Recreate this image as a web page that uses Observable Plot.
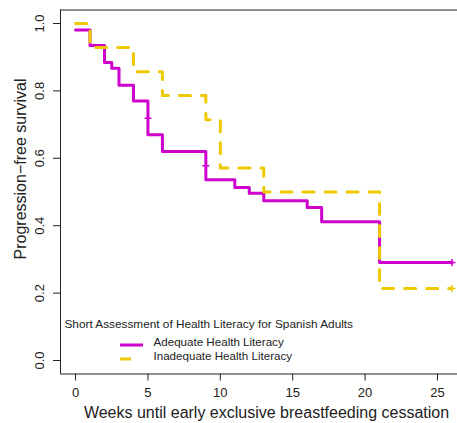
<!DOCTYPE html>
<html>
<head>
<meta charset="utf-8">
<script src="https://cdn.jsdelivr.net/npm/d3@7"></script>
<script src="https://cdn.jsdelivr.net/npm/@observablehq/plot@0.6"></script>
<style>
  html, body { margin: 0; padding: 0; background: #fff; }
  #chart { width: 457px; height: 423px; overflow: hidden; }
</style>
</head>
<body>
<div id="chart"></div>
<script>
// ---- data ----
const seriesNames = ["Adequate Health Literacy", "Inadequate Health Literacy"];
const legendTitle = "Short Assessment of Health Literacy for Spanish Adults";
const weeksAdequate = [0, 1, 2, 2.5, 3, 4, 5, 6, 9, 11, 12, 13, 16, 17, 21, 26];
const survAdequate  = [0.981, 0.935, 0.884, 0.867, 0.817, 0.770, 0.670, 0.620, 0.536, 0.513, 0.496, 0.474, 0.454, 0.412, 0.291, 0.291];
const weeksInadequate = [0, 1, 4, 6, 9, 10, 13, 21, 26];
const survInadequate  = [1.0, 0.929, 0.857, 0.786, 0.714, 0.571, 0.500, 0.214, 0.214];
const censorWeeksAdequate = [5, 9, 26];
const censorSurvAdequate  = [0.719, 0.578, 0.291];
const censorWeeksInadequate = [26];
const censorSurvInadequate  = [0.214];
const xTicks = [0, 5, 10, 15, 20, 25];
const yTicks = [0, 0.2, 0.4, 0.6, 0.8, 1.0];
const xLabel = "Weeks until early exclusive breastfeeding cessation";
const yLabel = "Progression\u2212free survival";

// ---- styles ----
const colAdequate = "#CD00CD";
const colInadequate = "#EEC900";
const ink = "#222";

const adequate = weeksAdequate.map((w, i) => ({week: w, surv: survAdequate[i]}));
const inadequate = weeksInadequate.map((w, i) => ({week: w, surv: survInadequate[i]}));
const censA = censorWeeksAdequate.map((w, i) => ({week: w, surv: censorSurvAdequate[i]}));
const censI = censorWeeksInadequate.map((w, i) => ({week: w, surv: censorSurvInadequate[i]}));

const plusSymbol = {
  draw(context, size) {
    const r = Math.sqrt(size / Math.PI);
    context.moveTo(-r, 0); context.lineTo(r, 0);
    context.moveTo(0, -r); context.lineTo(0, r);
  }
};

// padded domains like R (4%)
const xDom = [-1.04, 27.04];
const yDom = [-0.04, 1.04];

const legendMark = (index, scales, values, dims) => {
  const g = d3.create("svg:g");
  const x0 = dims.marginLeft;
  const yb = dims.height - dims.marginBottom;
  g.append("line").attr("x1", x0 + 60).attr("x2", x0 + 83)
    .attr("y1", yb - 28.5).attr("y2", yb - 28.5)
    .attr("stroke", colAdequate).attr("stroke-width", 3);
  g.append("line").attr("x1", x0 + 60).attr("x2", x0 + 82)
    .attr("y1", yb - 14.5).attr("y2", yb - 14.5)
    .attr("stroke", colInadequate).attr("stroke-width", 3)
    .attr("stroke-dasharray", "11,11");
  return g.node();
};

const chart = Plot.plot({
  width: 457,
  height: 423,
  marginLeft: 60,
  marginRight: 0,
  marginTop: 9.5,
  marginBottom: 49.5,
  style: {fontFamily: "'Liberation Sans', Arial, Helvetica, sans-serif", color: ink, background: "#fff"},
  x: {domain: xDom, range: [60, 466.5]},
  y: {domain: yDom, range: [373.5, 9.5]},
  marks: [
    // box (left, top, bottom)
    Plot.ruleY([yDom[0], yDom[1]], {stroke: ink, strokeWidth: 1}),
    Plot.ruleX([xDom[0]], {stroke: ink, strokeWidth: 1}),
    // axes
    Plot.axisY(yTicks, {tickSize: 7, tickFormat: () => "", label: null, stroke: ink}),
    Plot.text(yTicks, {y: d => d, text: d => d.toFixed(1), frameAnchor: "left", dx: -21, rotate: -90, textAnchor: "middle", fontSize: 13, fill: ink}),
    Plot.axisX(xTicks, {tickSize: 7, tickPadding: 7, fontSize: 13, label: null, stroke: ink, fill: ink}),
    Plot.text([yLabel], {frameAnchor: "left", textAnchor: "middle", dx: -40, dy: -23, rotate: -90, fontSize: 16, fill: ink}),
    Plot.text([xLabel], {frameAnchor: "bottom", dx: 7.5, dy: 44, fontSize: 16, fill: ink}),
    // survival curves
    Plot.line(adequate, {x: "week", y: "surv", curve: "step-after", stroke: colAdequate, strokeWidth: 3}),
    Plot.line(inadequate, {x: "week", y: "surv", curve: "step-after", stroke: colInadequate, strokeWidth: 3, strokeDasharray: "11,11"}),
    Plot.dot(censA, {x: "week", y: "surv", symbol: plusSymbol, r: 3.5, stroke: colAdequate, strokeWidth: 1.5, fill: "none"}),
    Plot.dot(censI, {x: "week", y: "surv", symbol: plusSymbol, r: 3.5, stroke: colInadequate, strokeWidth: 1.5, fill: "none"}),
    // legend
    Plot.text([legendTitle], {frameAnchor: "bottom-left", dx: 4, dy: -46.5, textAnchor: "start", fontSize: 11.8, fill: ink}),
    Plot.text(seriesNames, {frameAnchor: "bottom-left", dx: 93, dy: -28.5, textAnchor: "start", fontSize: 11.6, fill: ink, filter: (d, i) => i === 0}),
    Plot.text(seriesNames, {frameAnchor: "bottom-left", dx: 93, dy: -14.5, textAnchor: "start", fontSize: 11.6, fill: ink, filter: (d, i) => i === 1}),
    legendMark
  ]
});
document.getElementById("chart").appendChild(chart);
</script>
</body>
</html>
